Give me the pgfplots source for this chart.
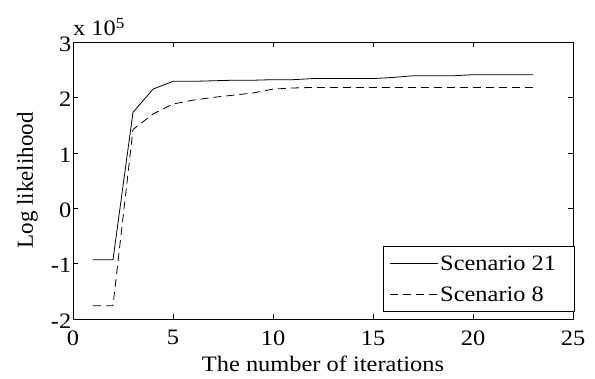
\documentclass[border=0pt]{standalone}
\usepackage{fontspec}
\setmainfont{Liberation Serif}[FakeStretch=1.11]
\newfontfamily\ylabfont{Liberation Serif}
\usepackage{pgfplots}
\pgfplotsset{compat=1.18}
\begin{document}
\begin{tikzpicture}
\begin{axis}[
  scale only axis,
  width=500pt, height=277pt,
  xmin=0, xmax=25, ymin=-2, ymax=3,
  xtick={0,5,10,15,20,25},
  ytick={-2,-1,0,1,2,3},
  tick align=inside,
  major tick length=5pt,
  axis line style={line width=0.9pt},
  every tick/.style={line width=0.6pt, black},
  font=\fontsize{22}{26}\selectfont,
  /pgf/number format/assume math mode=true,
  xticklabel style={yshift=-8pt, font=\fontsize{22}{26}\selectfont},
  yticklabel style={inner sep=1.5pt, yshift=-2pt, font=\fontsize{22}{26}\selectfont},
  xlabel={The number of iterations},
  ylabel={\ylabfont\fontsize{23}{27}\selectfont Log likelihood},
  xlabel style={yshift=-4pt},
  ylabel style={yshift=8pt},
  legend style={at={(1.003,0.025)}, anchor=south east, draw=black, line width=0.7pt,
    fill=white, inner xsep=6pt, inner ysep=7pt, row sep=11pt,
    font=\fontsize{22}{26}\selectfont},
  legend cell align=left,
  legend image code/.code={\draw[#1, line width=0.8pt] (0pt,0pt) -- (48pt,0pt);},
  clip=false,
]
\addplot[black, line width=0.8pt] coordinates {
(1,-0.93) (2,-0.93) (3,1.73) (4,2.15) (5,2.29) (6,2.29) (7,2.30) (8,2.31)
(9,2.31) (10,2.32) (11,2.32) (12,2.34) (13,2.34) (14,2.34) (15,2.34)
(16,2.36) (17,2.39) (18,2.39) (19,2.39) (20,2.41) (21,2.41) (22,2.41) (23,2.41)};
\addlegendentry{Scenario 21\hspace*{10pt}}
\addplot[black, line width=0.8pt, dash pattern=on 8pt off 5pt] coordinates {
(1,-1.76) (2,-1.76) (3,1.42) (4,1.70) (5,1.88) (6,1.95) (7,2.00) (8,2.04)
(9,2.08) (10,2.15) (11,2.17) (12,2.18) (13,2.18) (14,2.18) (15,2.18)
(16,2.18) (17,2.18) (18,2.18) (19,2.18) (20,2.18) (21,2.18) (22,2.18) (23,2.18)};
\addlegendentry{Scenario 8}
\node[anchor=south west, inner sep=0pt, font=\fontsize{22}{26}\selectfont]
  at (rel axis cs:0,1) [yshift=6pt] {x 10\textsuperscript{5}};
\end{axis}
\pgfresetboundingbox
\path (-73pt,-59pt) rectangle (522pt,319pt);
\end{tikzpicture}
\end{document}
